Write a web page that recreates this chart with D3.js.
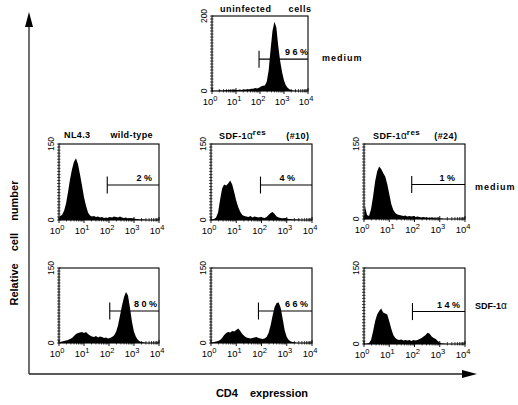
<!DOCTYPE html>
<html><head><meta charset="utf-8">
<script src="https://cdn.jsdelivr.net/npm/d3@7"></script>
<style>
body{margin:0;background:#fff}
svg{display:block}
text{font-family:"Liberation Sans",Arial,Helvetica,sans-serif;fill:#000}
</style>
</head><body>
<svg id="c" width="518" height="405"></svg>
<script>
// ---- data (log10 fluorescence bin centres and cell counts per bin) ----
const binLog = [0.04,0.12,0.20,0.28,0.36,0.44,0.52,0.60,0.68,0.76,
                0.84,0.92,1.00,1.08,1.16,1.24,1.32,1.40,1.48,1.56,
                1.64,1.72,1.80,1.88,1.96,2.04,2.12,2.20,2.28,2.36,
                2.44,2.52,2.60,2.68,2.76,2.84,2.92,3.00,3.08,3.16,
                3.24,3.32,3.40,3.48,3.56,3.64,3.72,3.80,3.88,3.96];
const uninfMedium = [0,1,1,1,2,1,2,2,2,3, 2,3,3,3,4,3,4,4,5,5, 6,6,8,7,9,12,14,15,25,55,
                     110,160,185,170,120,80,50,28,15,8, 4,2,1,1,0,0,0,0,0,0];
const wtMedium    = [8,10,18,32,55,80,100,115,122,110, 90,68,45,28,15,9,7,8,6,7, 5,6,4,5,4,6,5,7,6,5,
                     7,5,4,5,3,4,3,3,2,2, 1,1,1,0,0,0,0,0,0,0];
const res10Medium = [1,2,5,15,40,62,70,68,72,78, 70,55,38,25,16,10,8,7,6,8, 5,7,6,5,6,5,4,6,10,14,
                     16,12,7,5,4,3,4,3,2,2, 1,1,1,1,0,0,0,0,0,0];
const res24Medium = [25,8,6,20,45,75,95,105,100,92, 85,70,50,30,18,12,9,8,7,6, 7,5,6,5,6,4,5,4,3,4,
                     3,3,2,3,2,1,1,1,1,0, 0,0,0,0,0,0,0,0,0,0];
const wtSDF       = [2,3,4,5,6,8,10,14,18,20, 21,22,20,22,18,15,13,12,14,11, 13,12,10,11,9,10,12,15,22,35,
                     55,75,92,102,95,70,42,22,12,6, 3,2,1,0,0,0,0,0,0,0];
const res10SDF    = [1,2,3,4,6,10,16,20,22,21, 24,23,26,29,24,18,14,11,10,9, 10,11,12,10,9,8,9,12,20,35,
                     55,72,80,81,70,48,25,12,6,3, 2,1,0,0,0,0,0,0,0,0];
const res24SDF    = [0,1,2,8,25,45,58,65,70,62, 60,58,45,30,18,12,9,8,9,7, 8,7,8,6,8,7,8,10,12,15,
                     18,22,20,15,12,10,6,3,1,1, 0,0,0,0,0,0,0,0,0,0];
const yMax        = [200,150,150,150,150,150,150];
const gateLog     = [1.96,1.93,1.96,1.89,2.03,1.88,1.92];
const gateLevel   = [85,69,69,69,64,64,64];
const pctLabels   = ["9 6 %","2 %","4 %","1 %","8 0 %","6 6 %","1 4 %"];
const xTickExp    = [0,1,2,3,4];

const series = [uninfMedium,wtMedium,res10Medium,res24Medium,wtSDF,res10SDF,res24SDF];
// layout boxes
const boxes = [
  {x:212,y:16,w:96,h:75,pe:308},
  {x:59,y:144,w:100,h:76,pe:152},
  {x:211,y:144,w:101,h:76,pe:295},
  {x:364,y:144,w:101,h:75,pe:455},
  {x:59,y:268,w:100,h:75,pe:157},
  {x:211,y:268,w:101,h:75,pe:308},
  {x:364,y:268,w:101,h:76,pe:460}
];

const svg = d3.select("#c");

function drawPanel(i){
  const b = boxes[i], data = series[i];
  const g = svg.append("g").attr("transform",`translate(${b.x},${b.y})`);
  const x = d3.scaleLog().domain([1,10000]).range([0,b.w]);
  const y = d3.scaleLinear().domain([0,yMax[i]]).range([b.h,0]);
  const pts = [[1,0]].concat(binLog.map((l,k)=>[Math.pow(10,l),data[k]])).concat([[10000,0]]);
  const area = d3.area().x(d=>x(d[0])).y0(b.h).y1(d=>y(d[1]));
  g.append("path").attr("d",area(pts)).attr("fill","#000");
  // frame
  g.append("rect").attr("width",b.w).attr("height",b.h).attr("fill","none")
    .attr("stroke","#000").attr("stroke-width",1.1);
  // y minor ticks
  const yt = d3.range(0, yMax[i]+0.001, yMax[i]/25);
  g.selectAll(".yt").data(yt).enter().append("line")
    .attr("x1",-2).attr("x2",1.5).attr("y1",d=>y(d)).attr("y2",d=>y(d))
    .attr("stroke","#000").attr("stroke-width",0.7);
  // y labels
  [0,yMax[i]].forEach(v=>{
    g.append("text").attr("transform",`translate(-5,${y(v)}) rotate(-90)`)
      .attr("text-anchor","middle").attr("font-size",8.5).text(v);
  });
  // x ticks
  const minor = [];
  for(let e=0;e<4;e++) for(let m=2;m<10;m++) minor.push(m*Math.pow(10,e));
  g.selectAll(".xm").data(minor).enter().append("line")
    .attr("x1",d=>x(d)).attr("x2",d=>x(d)).attr("y1",b.h-2).attr("y2",b.h+1.5)
    .attr("stroke","#000").attr("stroke-width",0.7);
  g.selectAll(".xM").data(xTickExp).enter().append("line")
    .attr("x1",d=>x(Math.pow(10,d))).attr("x2",d=>x(Math.pow(10,d))).attr("y1",b.h-3).attr("y2",b.h+3)
    .attr("stroke","#000").attr("stroke-width",0.9);
  xTickExp.forEach(e=>{
    const t = g.append("text").attr("x",x(Math.pow(10,e))-2).attr("y",b.h+14)
      .attr("text-anchor","middle").attr("font-size",9.5);
    t.append("tspan").text("10");
    t.append("tspan").attr("dy",-4).attr("font-size",7.5).text(e);
  });
  // gate
  const gx = x(Math.pow(10,gateLog[i])), gy = y(gateLevel[i]);
  g.append("line").attr("x1",gx).attr("x2",b.w).attr("y1",gy).attr("y2",gy)
    .attr("stroke","#000").attr("stroke-width",1.1);
  g.append("line").attr("x1",gx).attr("x2",gx).attr("y1",gy-8.5).attr("y2",gy+8.5)
    .attr("stroke","#000").attr("stroke-width",1.1);
  g.append("text").attr("x",b.pe-b.x).attr("y",gy-4).attr("text-anchor","end")
    .attr("font-size",9).attr("font-weight","bold").text(pctLabels[i]);
}
for(let i=0;i<7;i++) drawPanel(i);

// titles
function boldText(x,yy,txt,size,opts={}){
  const t = svg.append("text").attr("x",x).attr("y",yy).attr("font-size",size)
    .attr("font-weight","bold").style("white-space","pre");
  if(opts.ws) t.attr("word-spacing",opts.ws);
  if(opts.ls) t.attr("letter-spacing",opts.ls);
  t.text(txt);
  return t;
}
boldText(220,12,"uninfected cells",9,{ws:14,ls:0.6});
boldText(64,138,"NL4.3 wild-type",9,{ws:17,ls:0.4});
function resTitle(x0,num,gap){
  const t = svg.append("text").attr("x",x0).attr("y",139).attr("font-size",9).attr("font-weight","bold");
  t.append("tspan").attr("letter-spacing",0.4).text("SDF-1");
  t.append("tspan").attr("font-weight","normal").attr("font-size",10).text("α");
  t.append("tspan").attr("dy",-4).attr("font-size",8).attr("letter-spacing",0.5).text("res");
  t.append("tspan").attr("dy",4).attr("dx",gap).attr("letter-spacing",0.4).text(num);
}
resTitle(219,"(#10)",20);
resTitle(373,"(#24)",14);

boldText(322,61,"medium",9,{ls:1});
boldText(475,190,"medium",9,{ls:1});
const sdf = svg.append("text").attr("x",475).attr("y",309).attr("font-size",9).attr("font-weight","bold");
sdf.append("tspan").text("SDF-1");
sdf.append("tspan").attr("font-weight","normal").attr("font-size",10).text("α");

// big axes
svg.append("line").attr("x1",29).attr("x2",29).attr("y1",374).attr("y2",24).attr("stroke","#222").attr("stroke-width",1.3);
svg.append("path").attr("d","M29,12 L25,27 L33,27 Z").attr("fill","#000");
svg.append("line").attr("x1",29).attr("x2",463).attr("y1",374).attr("y2",374).attr("stroke","#222").attr("stroke-width",1.3);
svg.append("path").attr("d","M477,374 L462,370 L462,378 Z").attr("fill","#000");

svg.append("text").attr("transform","translate(18,243) rotate(-90)").attr("text-anchor","middle")
  .attr("font-size",11).attr("font-weight","bold").attr("word-spacing",9).style("white-space","pre")
  .text("Relative cell number");
svg.append("text").attr("x",262).attr("y",397).attr("text-anchor","middle")
  .attr("font-size",11).attr("font-weight","bold").attr("word-spacing",9).style("white-space","pre")
  .text("CD4 expression");
</script>
</body></html>
